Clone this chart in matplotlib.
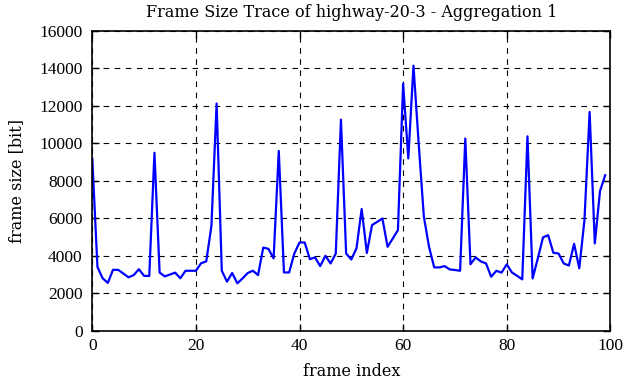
import numpy as np
import matplotlib
matplotlib.use('Agg')
import matplotlib.pyplot as plt

# frame sizes in bit
frame_size = [
    9200, 3400, 2800, 2550, 3250, 3250, 3050, 2850, 2970, 3280,
    2930, 2920, 9500, 3100, 2900, 3000, 3100, 2800, 3200, 3200,
    3200, 3600, 3700, 5600, 12130, 3200, 2620, 3080, 2530, 2790,
    3080, 3200, 2970, 4440, 4370, 3860, 9600, 3110, 3110, 4120,
    4710, 4710, 3820, 3910, 3450, 4000, 3590, 4120, 11270, 4120,
    3800, 4400, 6500, 4150, 5640, 5810, 5990, 4480, 4920, 5370,
    13190, 9200, 14150, 10000, 6100, 4480, 3380, 3380, 3450, 3270,
    3240, 3200, 10260, 3550, 3910, 3700, 3590, 2880, 3200, 3100,
    3540, 3110, 2930, 2740, 10380, 2790, 3860, 4980, 5100, 4160,
    4120, 3590, 3480, 4640, 3330, 5900, 11680, 4660, 7450, 8300,
]
frame_index = np.arange(len(frame_size))

plt.rcParams['font.family'] = ['Liberation Serif', 'DejaVu Serif']
plt.rcParams['font.size'] = 12.5

fig = plt.figure(figsize=(6.26, 3.82), dpi=100)
ax = fig.add_axes([0.1474, 0.1343, 0.8276, 0.7845])

ax.plot(frame_index, frame_size, color='#0000ff', linewidth=1.6)

ax.set_xlim(0, 100)
ax.set_ylim(0, 16000)
ax.set_xticks(range(0, 101, 20))
ax.set_yticks(range(0, 16001, 2000))
ax.grid(True, color='black', linestyle=(0, (5, 5)), linewidth=0.8)
ax.tick_params(direction='in', top=True, right=True, length=5, width=1)
ax.tick_params(axis='x', pad=5)
ax.tick_params(axis='y', pad=7)
for s in ax.spines.values():
    s.set_linewidth(1.2)

label_font = {'family': 'DejaVu Serif', 'size': 11.5}
ax.set_title('Frame Size Trace of highway-20-3 - Aggregation 1', fontdict=label_font, pad=10)
ax.set_xlabel('frame index', fontdict=label_font, labelpad=7)
ax.set_ylabel('frame size [bit]', fontdict=label_font, labelpad=10)

fig.savefig('out.png', dpi=100)
